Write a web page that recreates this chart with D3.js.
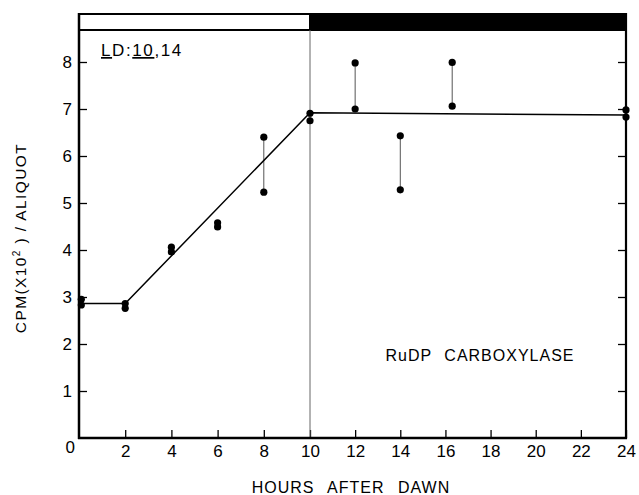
<!DOCTYPE html>
<html>
<head>
<meta charset="utf-8">
<style>
    body { margin: 0; background: #fff; }
    svg { display: block; }
    .axis .domain { display: none; }
    .axis .tick line { stroke: #000; stroke-width: 1.3px; }
    .axis .tick text { font-family: "Liberation Sans", Arial, sans-serif; font-size: 17px; fill: #000; }
    .lbl { font-family: "Liberation Sans", Arial, sans-serif; fill: #000; }
</style>
</head>
<body>
<svg width="639" height="495"></svg>
<script src="https://d3js.org/d3.v7.min.js"></script>
<script>
// sampling times and the two replicate readings at each time
let hours = [0.1, 2, 4, 6, 8, 10, 12, 14, 16.3, 24]
let highVals = [2.95, 2.86, 4.06, 4.58, 6.40, 6.91, 7.98, 6.43, 7.99, 6.98]
let lowVals = [2.83, 2.76, 3.96, 4.49, 5.23, 6.75, 7.00, 5.28, 7.06, 6.83]

// drawn trend line
let fitHours = [0, 2, 10, 24]
let fitVals = [2.86, 2.86, 6.92, 6.87]

// light / dark bar on top
let periodStart = [0, 10]
let periodEnd = [10, 24]
let periodFill = ["#fff", "#000"]

let xTicks = [2, 4, 6, 8, 10, 12, 14, 16, 18, 20, 22, 24]
let yTicks = [0, 1, 2, 3, 4, 5, 6, 7, 8]

let svg = d3.select("svg")

// the hand-drawn x axis is a little wider over the light part
let x = d3.scaleLinear()
    .domain([0, 10, 24])
    .range([79, 310, 626])

let y = d3.scaleLinear()
    .domain([0, 8])
    .range([438, 62])

let barTop = 14, barBottom = 30

// y axis, ticks pointing inward
let yAxis = svg.append("g")
    .attr("class", "axis")
    .attr("transform", `translate(${x(0)},0)`)
    .call(d3.axisLeft(y).tickValues(yTicks).tickSize(-8).tickPadding(7).tickFormat(d3.format("d")))

yAxis.selectAll(".tick").filter(d => d == 0).select("line").remove()
yAxis.selectAll(".tick").filter(d => d == 0).select("text").attr("dy", "0.85em").attr("x", -4)

// right side ticks, no labels
svg.append("g")
    .attr("class", "axis")
    .attr("transform", `translate(${x(24)},0)`)
    .call(d3.axisLeft(y).tickValues(yTicks.slice(1)).tickSize(8).tickFormat(""))

// x axis
svg.append("g")
    .attr("class", "axis")
    .attr("transform", `translate(0,${y(0)})`)
    .call(d3.axisBottom(x).tickValues(xTicks).tickSize(-8).tickPadding(7).tickFormat(d3.format("d")))

// light-dark bar
svg.append("g")
    .selectAll("rect")
    .data(periodStart)
    .join("rect")
    .attr("x", (d, i) => x(d))
    .attr("y", barTop)
    .attr("width", (d, i) => x(periodEnd[i]) - x(d))
    .attr("height", barBottom - barTop)
    .style("fill", (d, i) => periodFill[i])
    .style("stroke", "#000")
    .style("stroke-width", 2)

// divider at lights off
svg.append("line")
    .attr("x1", x(10)).attr("x2", x(10))
    .attr("y1", barBottom).attr("y2", y(0))
    .style("stroke", "#666")
    .style("stroke-width", 1)

// frame
svg.append("line")
    .attr("x1", x(0)).attr("x2", x(0))
    .attr("y1", barTop - 1).attr("y2", y(0) + 1)
    .style("stroke", "#000").style("stroke-width", 2.5)
svg.append("line")
    .attr("x1", x(24)).attr("x2", x(24))
    .attr("y1", barTop - 1).attr("y2", y(0) + 1)
    .style("stroke", "#000").style("stroke-width", 2.2)
svg.append("line")
    .attr("x1", x(0) - 1).attr("x2", x(24) + 1)
    .attr("y1", y(0)).attr("y2", y(0))
    .style("stroke", "#000").style("stroke-width", 2.5)

// replicate range bars
svg.append("g")
    .selectAll("line")
    .data(hours)
    .join("line")
    .attr("x1", d => x(d)).attr("x2", d => x(d))
    .attr("y1", (d, i) => y(highVals[i]))
    .attr("y2", (d, i) => y(lowVals[i]))
    .style("stroke", "#555")
    .style("stroke-width", 1)

// trend line
let line = d3.line()
    .x((d, i) => x(fitHours[i]))
    .y(d => y(d))

svg.append("path")
    .attr("d", line(fitVals))
    .style("fill", "none")
    .style("stroke", "#000")
    .style("stroke-width", 1.5)

// points
let pts = svg.append("g")
pts.selectAll(".hi")
    .data(hours)
    .join("circle")
    .attr("class", "hi")
    .attr("cx", d => x(d))
    .attr("cy", (d, i) => y(highVals[i]))
    .attr("r", 3.6)
pts.selectAll(".lo")
    .data(hours)
    .join("circle")
    .attr("class", "lo")
    .attr("cx", d => x(d))
    .attr("cy", (d, i) => y(lowVals[i]))
    .attr("r", 3.6)

// LD:10,14
let ld = svg.append("text")
    .attr("class", "lbl")
    .attr("x", 101)
    .attr("y", 56)
    .style("font-size", "17px")
    .style("letter-spacing", "1.6px")
ld.append("tspan").style("text-decoration", "underline").text("L")
ld.append("tspan").text("D:")
ld.append("tspan").style("text-decoration", "underline").text("10")
ld.append("tspan").text(",14")

svg.append("text")
    .attr("class", "lbl")
    .attr("x", 480)
    .attr("y", 361)
    .attr("text-anchor", "middle")
    .style("font-size", "16px")
    .style("letter-spacing", "1px")
    .style("word-spacing", "7px")
    .text("RuDP CARBOXYLASE")

svg.append("text")
    .attr("class", "lbl")
    .attr("x", 351)
    .attr("y", 493)
    .attr("text-anchor", "middle")
    .style("font-size", "16px")
    .style("letter-spacing", "1px")
    .style("word-spacing", "8px")
    .text("HOURS AFTER DAWN")

let yl = svg.append("text")
    .attr("class", "lbl")
    .attr("transform", "translate(26,238) rotate(-90)")
    .attr("text-anchor", "middle")
    .style("font-size", "15.5px")
    .style("letter-spacing", "1.4px")
yl.append("tspan").text("CPM(X10")
yl.append("tspan").attr("dy", -6).style("font-size", "10px").text("2")
yl.append("tspan").attr("dy", 6).text(" ) / ALIQUOT")
</script>
</body>
</html>
